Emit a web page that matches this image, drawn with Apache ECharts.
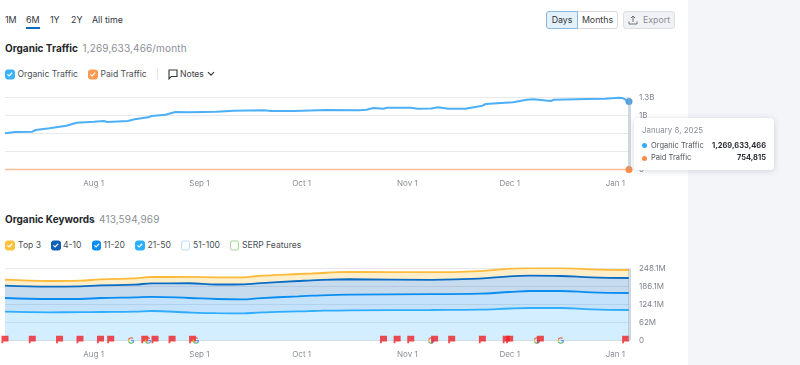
<!DOCTYPE html>
<html><head><meta charset="utf-8">
<script src="https://cdn.jsdelivr.net/npm/echarts@6/dist/echarts.min.js"></script>
<style>
html,body{margin:0;padding:0;width:800px;height:365px;overflow:hidden;background:#fff;font-family:Inter,"Noto Sans",sans-serif;}
#side{position:absolute;left:688px;top:0;width:112px;height:365px;background:#f4f5f9;}
#chart{position:absolute;left:0;top:0;width:800px;height:365px;}
svg{display:block;}
.t{position:absolute;white-space:nowrap;line-height:14px;transform:translateY(-7px);color:#2b2e33;}
.cb{position:absolute;width:9.5px;height:9.5px;border-radius:2.5px;box-sizing:border-box;transform:translateY(-4.5px);}
.cb svg{position:absolute;left:0;top:0;}
.btn{position:absolute;top:11px;height:18px;box-sizing:border-box;border-radius:3px;font-size:8.8px;line-height:16px;text-align:center;}
.tip{font-family:Inter,"Noto Sans",sans-serif;position:relative;width:140px;height:52px;}
.tip div{position:absolute;white-space:nowrap;line-height:12px;}
</style></head><body>
<div id="side"></div>
<div id="chrome"></div>
<div id="chart"></div>
<script>
// ---------- data ----------
const rangeTabs = ['1M','6M','1Y','2Y','All time'];
const tickDates = ['2024-08-01','2024-09-01','2024-10-01','2024-11-01','2024-12-01','2025-01-01'];
const tickLabels = ['Aug 1','Sep 1','Oct 1','Nov 1','Dec 1','Jan 1'];
const trafficTicks = {0:'0',336:'336M',672:'672M',1008:'1B',1344:'1.3B'};
const keywordTicks = ['0','62M','124.1M','186.1M','248.1M'];

const organicDates = ['2024-07-06','2024-07-09','2024-07-14','2024-07-15','2024-07-19','2024-07-24','2024-07-27','2024-08-01','2024-08-04','2024-08-05','2024-08-11','2024-08-13','2024-08-17','2024-08-18','2024-08-22','2024-08-25','2024-08-29','2024-09-06','2024-09-11','2024-09-20','2024-09-22','2024-09-29','2024-10-08','2024-10-18','2024-10-20','2024-10-22','2024-10-25','2024-10-26','2024-11-02','2024-11-04','2024-11-08','2024-11-10','2024-11-13','2024-11-18','2024-11-23','2024-11-24','2024-12-02','2024-12-06','2024-12-08','2024-12-13','2024-12-14','2024-12-24','2024-12-29','2025-01-02','2025-01-03','2025-01-05'];
const organicTraffic = [676,700,706,737,769,818,874,892,905,887,905,937,974,999,1023,1073,1068,1079,1098,1105,1092,1092,1111,1105,1116,1148,1135,1154,1154,1135,1139,1161,1135,1135,1191,1223,1254,1303,1310,1279,1303,1316,1322,1340,1335,1269.633466];
const paidDates = ['2024-07-06','2024-10-01','2025-01-05'];
const paidTraffic = [0.72,0.75,0.754815];

const keywordDates = ['2024-07-06','2024-07-19','2024-07-28','2024-08-03','2024-08-13','2024-08-18','2024-08-29','2024-09-06','2024-09-14','2024-09-18','2024-09-30','2024-10-04','2024-10-15','2024-11-08','2024-11-22','2024-12-01','2024-12-07','2024-12-16','2024-12-25','2025-01-05'];
const kw2150 = [99.2,97.2,97.5,98.2,99.6,101.7,96.5,94.1,93.7,95.8,100.6,101.7,104.1,105.1,106.1,110.3,112,112,107.5,105.1];
const kw1120 = [47.2,45.8,45.5,48.2,49.3,48.9,50,48.9,48.2,49.6,51.7,52.7,53.8,54.4,55.1,56.9,58.6,58.6,58.6,58.6];
const kw410  = [42.4,42.4,43.8,43.8,43.4,46.5,50.7,50,51.7,51.7,52.7,53.1,53.1,49.6,51.7,54.1,52.7,51.7,51.7,51.7];
const kwTop3 = [20.7,19.6,19.3,20.7,22.1,21.7,21.7,24.8,24.1,25.2,24.1,23.4,25.2,26.2,26.5,26.2,26.5,27.6,27.6,27.6];

const flagDates = ['2024-07-06','2024-07-14','2024-07-22','2024-07-28','2024-08-03','2024-08-06','2024-08-16','2024-08-19','2024-08-24','2024-08-30','2024-10-25','2024-10-29','2024-11-02','2024-11-09','2024-11-14','2024-11-23','2024-11-30','2024-12-01','2024-12-10','2025-01-04'];
const googleDates = ['2024-08-12','2024-08-17','2024-08-31','2024-11-08','2024-12-09','2024-12-16'];

const tooltipDate = 'January 8, 2025';
const organicNow = '1,269,633,466';
const paidNow = '754,815';
const keywordsNow = '413,594,969';

// ---------- page chrome ----------
const chrome = document.getElementById('chrome');
function text(x,y,s,size,color,weight,extra){
  const d=document.createElement('div');d.className='t';d.textContent=s;
  d.style.cssText=`left:${x}px;top:${y}px;font-size:${size}px;color:${color||'#2b2e33'};font-weight:${weight||400};${extra||''}`;
  chrome.appendChild(d);return d;
}
const tick='<svg width="9.5" height="9.5" viewBox="0 0 9 9"><path d="M2.3 4.6L3.9 6.1L6.8 3.1" fill="none" stroke="#fff" stroke-width="1.1"/></svg>';
function check(x,y,fill,border,on){
  const d=document.createElement('div');d.className='cb';
  d.style.cssText=`left:${x}px;top:${y}px;background:${fill};border:1px solid ${border};`;
  if(on){d.innerHTML=tick;d.firstChild.style.left='-1px';d.firstChild.style.top='-1px';}
  chrome.appendChild(d);
}
[5,26,50,71,92].forEach((x,i)=>text(x,20,rangeTabs[i],8.9,'#34373c'));
const ul=document.createElement('div');ul.style.cssText='position:absolute;left:26px;top:27px;width:14px;height:2px;background:#0a6cc4;';chrome.appendChild(ul);

text(5,48,'Organic Traffic',10,'#25282d',700);
text(82.5,48,organicNow+'/month',10,'#8b8f96',400,'letter-spacing:.15px;');
check(5,74,'#3ab2ff','#3ab2ff',true);text(17.5,74,'Organic Traffic',8.6,'#4b4f55');
check(88,74,'#ff9a55','#ff9a55',true);text(100.5,74,'Paid Traffic',8.6,'#4b4f55');
const sep=document.createElement('div');sep.style.cssText='position:absolute;left:157px;top:68px;width:1px;height:12px;background:#e3e4e8;';chrome.appendChild(sep);
const note=document.createElement('div');note.style.cssText='position:absolute;left:167.500px;top:69px;';
note.innerHTML='<svg width="10" height="11" viewBox="0 0 10 11"><path d="M1 1H9V7.5H3.2L1 9.8Z" fill="none" stroke="#33363b" stroke-width="1.1"/></svg>';chrome.appendChild(note);
text(180,74,'Notes',8.6,'#3b3e44');
const chev=document.createElement('div');chev.style.cssText='position:absolute;left:207px;top:71px;';
chev.innerHTML='<svg width="8" height="6" viewBox="0 0 8 6"><path d="M1 1.2L4 4.2L7 1.2" fill="none" stroke="#33363b" stroke-width="1.2"/></svg>';chrome.appendChild(chev);

function btn(x,w,s,css){const d=document.createElement('div');d.className='btn';d.textContent=s;d.style.cssText=`left:${x}px;width:${w}px;${css}`;chrome.appendChild(d);return d;}
btn(546,32,'Days','background:#e4f1fb;border:1px solid #86b6e2;color:#2f3237;border-radius:3px 0 0 3px;z-index:1;');
btn(577,41,'Months','background:#fff;border:1px solid #d9dbe0;color:#3a3d43;border-radius:0 3px 3px 0;');
btn(623,52,'','background:#f1f2f5;border:1px solid #dcdee3;');
text(643,20,'Export',8.8,'#8b8f96');
const up=document.createElement('div');up.style.cssText='position:absolute;left:628px;top:15px;';
up.innerHTML='<svg width="10" height="10" viewBox="0 0 10 10"><path d="M5 7V1.2M3 3L5 1L7 3M1 6.5V9H9V6.5" fill="none" stroke="#6d7177" stroke-width="1"/></svg>';chrome.appendChild(up);

text(5,219,'Organic Keywords',10,'#25282d',700);
text(99,219,keywordsNow,10,'#8b8f96',400,'letter-spacing:.15px;');
check(5,245,'#fec13d','#fec13d',true);text(18,245,'Top 3',8.6,'#4b4f55');
check(51,245,'#0b62b5','#0b62b5',true);text(63,245,'4-10',8.6,'#4b4f55');
check(91.5,245,'#0a8df0','#0a8df0',true);text(103.5,245,'11-20',8.6,'#4b4f55');
check(135,245,'#2ab0ff','#2ab0ff',true);text(147.5,245,'21-50',8.6,'#4b4f55');
check(180.5,245,'#fff','#b9defa',false);text(193,245,'51-100',8.6,'#4b4f55');
check(229.5,245,'#fff','#9fd492',false);text(242,245,'SERP Features',8.6,'#4b4f55');

// ---------- chart ----------
const ts = s => new Date(s+'T00:00:00Z').getTime();
const pairs = (dates,vals) => dates.map((d,i)=>[ts(d),vals[i]]);
const xMin = ts('2024-07-06'), xMax = ts('2025-01-05');
const tickVals = tickDates.map(ts);
const fmtDay = v => tickLabels[tickVals.indexOf(+v)] ?? '';
const DAY = 86400000;

function xAxis(gridIndex){
  return {type:'time',gridIndex,min:xMin,max:xMax,minInterval:28*DAY,maxInterval:31*DAY,
    axisLine:{show:gridIndex===1,onZero:false,lineStyle:{color:'#e2e3e7'}},axisTick:{show:false},splitLine:{show:false},
    axisLabel:{formatter:fmtDay,color:'#8a8e95',fontSize:8,fontFamily:'Inter',margin:10,hideOverlap:false,showMinLabel:false,showMaxLabel:false},
    axisPointer:{show:true,status:'show',value:xMax,snap:false,triggerTooltip:false,label:{show:false},lineStyle:{color:'rgba(150,170,190,0.45)',width:3,type:'solid'}}};
}
function yAxis(gridIndex,max,interval,fmt){
  return {type:'value',gridIndex,position:'right',min:0,max,interval,
    axisLine:{show:false},axisTick:{show:false},
    splitLine:{lineStyle:{color:'#e8e9ec',width:1}},
    axisLabel:{color:'#7f838a',fontSize:8,fontFamily:'Inter',margin:10,formatter:fmt}};
}
function trafficLine(name,dates,vals,lineColor,dotColor,width){
  const last=vals.length-1;
  return {name,type:'line',xAxisIndex:0,yAxisIndex:0,data:pairs(dates,vals),smooth:false,
    showSymbol:true,showAllSymbol:true,symbol:'circle',clip:false,
    symbolSize:(v,p)=>p.dataIndex===last?7:0,
    itemStyle:{color:dotColor},lineStyle:{color:lineColor,width},emphasis:{disabled:true},z:5};
}
function band(name,vals,lineColor,area){
  return {name,type:'line',stack:'kw',xAxisIndex:1,yAxisIndex:1,data:pairs(keywordDates,vals),smooth:0.4,
    showSymbol:false,lineStyle:{color:lineColor,width:1.8},areaStyle:{color:area,opacity:1},
    emphasis:{disabled:true},silent:true,z:3};
}
const flagSym='path://M0 0H10V8H2.6V10.5H0Z';
const gSvg="<svg xmlns='http://www.w3.org/2000/svg' viewBox='0 0 24 24'><path fill='#4285F4' d='M23 12.3c0-.8-.1-1.6-.2-2.3H12v4.4h6.2c-.3 1.4-1.1 2.6-2.3 3.4v2.8h3.7C21.800 18.600 23 15.700 23 12.300z'/><path fill='#34A853' d='M12 23.500c3.100 0 5.700-1 7.600-2.800l-3.700-2.900c-1 .7-2.300 1.100-3.900 1.100-3 0-5.500-2-6.400-4.700H1.800v2.900C3.700 21 7.500 23.500 12 23.500z'/><path fill='#FBBC05' d='M5.600 14.200c-.5-1.400-.5-3 0-4.400V6.900H1.800c-1.600 3.100-1.600 7 0 10.200z'/><path fill='#EA4335' d='M12 5.100c1.700 0 3.200.6 4.400 1.700l3.300-3.300C17.700 1.700 15.100.5 12 .5 7.500.5 3.700 3 1.800 6.900l3.800 2.900C6.500 7.100 9 5.100 12 5.100z'/></svg>";
const gSym='image://data:image/svg+xml;utf8,'+encodeURIComponent(gSvg);
const markers=[...flagDates.map(d=>({d,k:'f'})),...googleDates.map(d=>({d,k:'g'}))]
  .sort((a,b)=>ts(a.d)-ts(b.d))
  .map(m=>({value:[ts(m.d),0],symbol:m.k==='f'?flagSym:gSym,
            symbolSize:m.k==='f'?[7,7.5]:[7,7],
            symbolOffset:m.k==='f'?[0,-1]:[0,0],
            itemStyle:{color:'#ee1f26'}}));

const tipHtml=`<div class="tip">
<div style="left:8px;top:6px;font-size:7.9px;color:#8b8f96;">${tooltipDate}</div>
<div style="left:8px;top:25px;width:5px;height:5px;border-radius:50%;background:#35a9fb;"></div>
<div style="left:17px;top:21.5px;font-size:7.5px;color:#52565c;">Organic Traffic</div>
<div style="right:8px;top:21.500px;font-size:7.5px;font-weight:700;color:#2b2e33;">${organicNow}</div>
<div style="left:8px;top:37.500px;width:5px;height:5px;border-radius:50%;background:#ff8c43;"></div>
<div style="left:17px;top:34px;font-size:7.5px;color:#52565c;">Paid Traffic</div>
<div style="right:8px;top:34px;font-size:7.5px;font-weight:700;color:#2b2e33;">${paidNow}</div>
</div>`;

const chart=echarts.init(document.getElementById('chart'),null,{renderer:'canvas'});
chart.setOption({
  animation:false,useUTC:true,
  grid:[{left:5,right:171,top:97.5,height:72},{left:5,right:171,top:268.5,height:72}],
  xAxis:[xAxis(0),xAxis(1)],
  yAxis:[yAxis(0,1344,336,v=>trafficTicks[v]),yAxis(1,248.1,62.025,(v,i)=>keywordTicks[i])],
  tooltip:{show:true,trigger:'item',triggerOn:'none',alwaysShowContent:true,transitionDuration:0,padding:0,borderWidth:0,
    backgroundColor:'#fff',position:[634,118],formatter:()=>tipHtml,
    extraCssText:'border-radius:4px;box-shadow:0 1px 6px rgba(40,50,70,.18);'},
  series:[
    trafficLine('Paid Traffic',paidDates,paidTraffic,'#f9bd9c','#ff8c43',1.5),
    trafficLine('Organic Traffic',organicDates,organicTraffic,'#4db0f7','#4a9fe6',2),
    band('21-50',kw2150,'#2eadfd','rgba(45,175,255,0.21)'),
    band('11-20',kw1120,'#0a8df0','rgba(0,130,240,0.23)'),
    band('4-10',kw410,'#0b6cc4','rgba(0,90,180,0.22)'),
    band('Top 3',kwTop3,'#fdba3b','rgba(255,190,50,0.26)'),
    {name:'Notes',type:'scatter',xAxisIndex:1,yAxisIndex:1,data:markers,clip:false,silent:true,z:8}
  ]
});
chart.dispatchAction({type:'showTip',seriesIndex:1,dataIndex:organicTraffic.length-1});
</script>
</body></html>
